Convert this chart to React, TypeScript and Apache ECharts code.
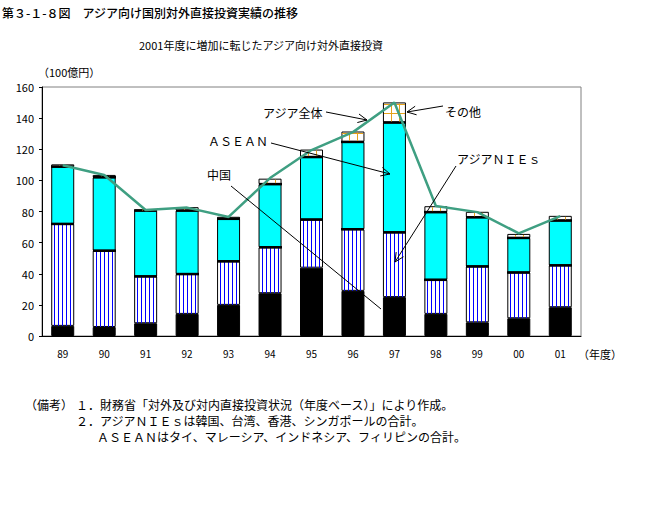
import React, { useEffect, useRef } from "react";
import * as echarts from "echarts";

const categories = ["89", "90", "91", "92", "93", "94", "95", "96", "97", "98", "99", "00", "01"];
const china = [6.5, 5.8, 8.2, 14.2, 20.0, 27.5, 43.9, 29.0, 25.0, 14.2, 8.8, 11.4, 18.5];
const nies = [65.5, 49.0, 30.1, 25.6, 28.0, 29.5, 30.9, 39.6, 41.6, 21.9, 35.9, 29.4, 26.9];
const asean = [36.8, 47.2, 42.3, 40.8, 27.3, 40.6, 40.2, 56.1, 70.6, 43.5, 31.6, 22.2, 28.8];
const other = [1.5, 1.5, 0.7, 2.2, 1.3, 3.5, 4.8, 6.7, 12.9, 3.8, 3.5, 2.6, 3.0];
const asiaTotal = [109.7, 103.5, 81.0, 82.5, 76.5, 101.5, 119.5, 131.0, 150.0, 83.5, 79.6, 66.0, 77.0];

const FONT = '"Noto Sans CJK JP", sans-serif';
const BAR_W = 23;

function arrow(x1: number, y1: number, x2: number, y2: number, head: boolean) {
  const els: any[] = [
    { type: "line", shape: { x1, y1, x2, y2 }, style: { stroke: "#000", lineWidth: 1 }, z: 100 },
  ];
  if (head) {
    const a = Math.atan2(y2 - y1, x2 - x1);
    const L = 10;
    const s = 0.45;
    els.push({
      type: "polyline",
      shape: {
        points: [
          [x2 - L * Math.cos(a - s), y2 - L * Math.sin(a - s)],
          [x2, y2],
          [x2 - L * Math.cos(a + s), y2 - L * Math.sin(a + s)],
        ],
      },
      style: { stroke: "#000", lineWidth: 1, fill: null },
      z: 100,
    });
  }
  return els;
}

function txt(text: string, x: number, y: number, size: number, align: string = "left", weight: string = "normal") {
  return {
    type: "text",
    x,
    y,
    z: 100,
    style: {
      text,
      fontSize: size,
      fontFamily: FONT,
      fontWeight: weight,
      fill: "#000",
      textAlign: align,
      textVerticalAlign: "middle",
    },
  };
}

export default function App() {
  const ref = useRef<HTMLDivElement>(null);
  useEffect(() => {
    if (!ref.current) return;
    const chart = echarts.init(ref.current, null, { renderer: "svg" });
    const border = { borderColor: "#000", borderWidth: 1 };
    const barCommon = { type: "bar", stack: "asia", barWidth: BAR_W, silent: true };

    const niesSeg = categories.map((_, i) => [i, china[i], china[i] + nies[i]]);
    const aseanSeg = categories.map((_, i) => [i, china[i] + nies[i], china[i] + nies[i] + asean[i]]);
    const otherSeg = categories.map((_, i) => [
      i,
      china[i] + nies[i] + asean[i],
      china[i] + nies[i] + asean[i] + other[i],
    ]);

    const segBox = (api: any) => {
      const i = api.value(0);
      const lo = api.coord([i, api.value(1)]);
      const hi = api.coord([i, api.value(2)]);
      const x0 = Math.round(lo[0] - BAR_W / 2);
      return { x0, x1: x0 + BAR_W, yTop: hi[1], yBot: lo[1] };
    };

    const stripeRender = (params: any, api: any) => {
      const b = segBox(api);
      const children: any[] = [];
      for (let x = b.x0 + 3; x < b.x1 - 1; x += 4) {
        children.push({
          type: "line",
          shape: { x1: x + 0.5, y1: b.yTop, x2: x + 0.5, y2: b.yBot },
          style: { stroke: "#0000ff", lineWidth: 1 },
        });
      }
      children.push({
        type: "line",
        shape: { x1: b.x0, y1: b.yTop, x2: b.x1, y2: b.yTop },
        style: { stroke: "#000", lineWidth: 2.5 },
      });
      return { type: "group", children };
    };

    const topLineRender = (params: any, api: any) => {
      const b = segBox(api);
      return {
        type: "line",
        shape: { x1: b.x0, y1: b.yTop, x2: b.x1, y2: b.yTop },
        style: { stroke: "#000", lineWidth: 2.5 },
      };
    };

    const gridRender = (params: any, api: any) => {
      const b = segBox(api);
      const children: any[] = [];
      for (let x = b.x0 + 8; x < b.x1 - 1; x += 8) {
        children.push({
          type: "line",
          shape: { x1: x + 0.5, y1: b.yTop + 1, x2: x + 0.5, y2: b.yBot - 1 },
          style: { stroke: "#e6a21a", lineWidth: 1 },
        });
      }
      for (let y = b.yBot - 9; y > b.yTop + 1; y -= 9) {
        children.push({
          type: "line",
          shape: { x1: b.x0 + 1, y1: Math.round(y) + 0.5, x2: b.x1 - 1, y2: Math.round(y) + 0.5 },
          style: { stroke: "#e6a21a", lineWidth: 1 },
        });
      }
      return { type: "group", children };
    };

    chart.setOption({
      animation: false,
      textStyle: { fontFamily: FONT },
      grid: { left: 42, right: 69, top: 87, bottom: 194, show: true, borderColor: "#808080", borderWidth: 1 },
      xAxis: {
        type: "category",
        data: categories,
        axisLine: { lineStyle: { color: "#000", width: 1 } },
        axisTick: { inside: true, length: 3, lineStyle: { color: "#000" } },
        axisLabel: { color: "#000", fontSize: 10, margin: 12, fontFamily: FONT },
      },
      yAxis: {
        type: "value",
        min: 0,
        max: 160,
        interval: 20,
        splitLine: { show: false },
        axisLine: { show: true, lineStyle: { color: "#000", width: 1 } },
        axisTick: { show: true, inside: false, length: 3, lineStyle: { color: "#000" } },
        axisLabel: { color: "#000", fontSize: 11, margin: 8, fontFamily: FONT },
      },
      series: [
        { ...barCommon, name: "中国", data: china, itemStyle: { color: "#000", ...border } },
        { ...barCommon, name: "アジアＮＩＥｓ", data: nies, itemStyle: { color: "#ffffff", ...border } },
        { ...barCommon, name: "ＡＳＥＡＮ", data: asean, itemStyle: { color: "#00ffff", ...border } },
        { ...barCommon, name: "その他", data: other, itemStyle: { color: "#ffffff", ...border } },
        { type: "custom", name: "NIEs柄", data: niesSeg, renderItem: stripeRender, silent: true, z: 3 },
        { type: "custom", name: "ASEAN線", data: aseanSeg, renderItem: topLineRender, silent: true, z: 3 },
        { type: "custom", name: "その他柄", data: otherSeg, renderItem: gridRender, silent: true, z: 3 },
        {
          type: "line",
          name: "アジア全体",
          data: asiaTotal,
          symbol: "none",
          z: 10,
          lineStyle: { color: "#3f9f82", width: 2.5 },
        },
      ],
      graphic: [
        txt("第３-１-８図　アジア向け国別対外直接投資実績の推移", 2, 12, 12, "left", "500"),
        txt("2001年度に増加に転じたアジア向け対外直接投資", 261, 45, 11, "center"),
        txt("（100億円）", 38, 72, 11),
        txt("（年度）", 578, 354, 11),
        txt("アジア全体", 263, 112, 12),
        ...arrow(326, 112, 367, 120, true),
        txt("ＡＳＥＡＮ", 208, 140, 12),
        ...arrow(271, 143, 390, 174, true),
        txt("中国", 207, 174, 12),
        ...arrow(231, 186, 381, 309, false),
        txt("その他", 445, 111, 12),
        ...arrow(443, 106, 407, 112, true),
        txt("アジアＮＩＥｓ", 457, 158, 12),
        ...arrow(456, 166, 395, 262, true),
        txt("（備考）", 25, 404, 12),
        txt("１．財務省「対外及び対内直接投資状況（年度ベース）」により作成。", 76, 404, 12),
        txt("２．アジアＮＩＥｓは韓国、台湾、香港、シンガポールの合計。", 76, 420, 12),
        txt("ＡＳＥＡＮはタイ、マレーシア、インドネシア、フィリピンの合計。", 97, 436, 12),
      ],
    });
    return () => chart.dispose();
  }, []);
  return <div ref={ref} style={{ position: "absolute", left: 0, top: 0, width: 650, height: 530 }} />;
}
